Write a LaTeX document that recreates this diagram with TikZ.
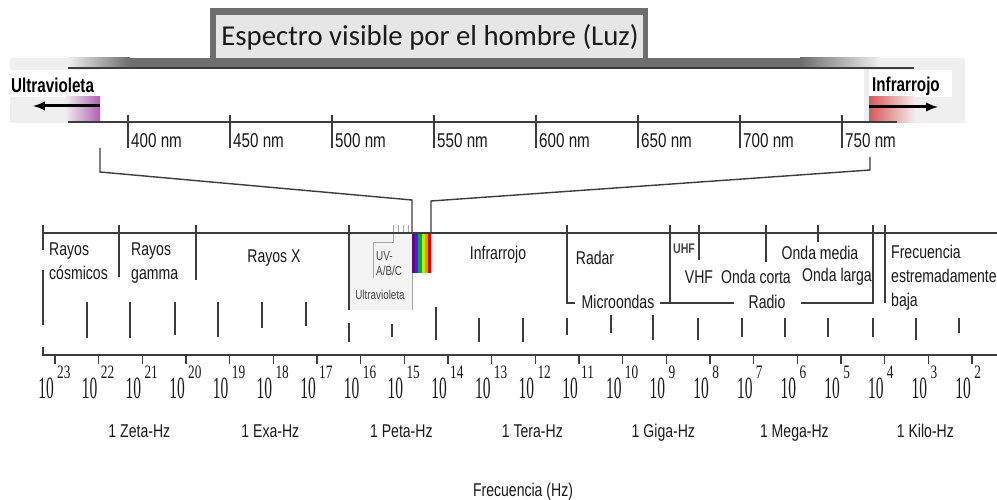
\documentclass[tikz,border=0pt]{standalone}
\usepackage{fontspec}
\usetikzlibrary{arrows, positioning, calc}
\newfontfamily\narrowfont[FakeStretch=0.76]{Liberation Sans}
\newfontfamily\tallfont[FakeStretch=0.5]{Liberation Serif}
\newfontfamily\supfont[FakeStretch=0.7]{Liberation Serif}
\newfontfamily\titlefont{Carlito}
\definecolor{axisgray}{HTML}{3C3C3C}
\definecolor{bargray}{HTML}{6E6E6E}
\definecolor{boxgray}{HTML}{E6E6E6}
\definecolor{panelgray}{HTML}{EFEFEF}
\definecolor{uvgray}{HTML}{F3F3F3}
\definecolor{uvpurple}{HTML}{B060B0}
\definecolor{irred}{HTML}{D85858}
\definecolor{txtgray}{HTML}{1A1A1A}
\tikzset{
  axisline/.style={draw=axisgray, line width=2pt},
  tickline/.style={draw=axisgray, line width=1.4pt},
  thinline/.style={draw=gray!70, line width=0.9pt},
  lbl/.style={inner sep=0pt, text=txtgray, font=\narrowfont\fontsize{18.5}{24}\selectfont},
  smalllbl/.style={inner sep=0pt, text=txtgray!80, font=\narrowfont\fontsize{13}{15}\selectfont},
  nmlbl/.style={inner sep=0pt, anchor=base west, text=txtgray, font=\narrowfont\fontsize{20}{20}\selectfont},
  sidelbl/.style={inner sep=0pt, anchor=base west, text=black, font=\narrowfont\bfseries\fontsize{20}{20}\selectfont},
  sidearrow/.style={-latex, line width=3pt, black},
}

\begin{document}
\begin{tikzpicture}[x=1pt, y=-1pt]
        \useasboundingbox (0,0) rectangle (997,500);
        \fill[white] (0,0) rectangle (997,500);
        % visible range band
        \fill[fill=panelgray] (10,58) rectangle (100,123);
        \fill[fill=white] (10,70) rectangle (100,97);
        \fill[fill=panelgray] (864,58) rectangle (965,123);
        \fill[fill=white] (869,70) rectangle (952,97);
        \fill[fill=bargray] (130,58) rectangle (800,68);
        \shade[left color=panelgray, right color=bargray] (68,58) rectangle (130,68);
        \shade[left color=bargray, right color=panelgray] (800,58) rectangle (880,68);
        \draw[axisgray, line width=1.5pt] (68,68) -- (914,68);
        \fill[fill=bargray] (210,8) rectangle (648,63);
        \fill[fill=boxgray] (216,15) rectangle (643,58);
        \node[inner sep=0pt, text=txtgray] (title) at (430,37) {\titlefont\fontsize{28.8}{29}\selectfont Espectro visible por el hombre (Luz)};
        \shade[left color=panelgray, right color=uvpurple] (65,97) rectangle (100,123);
        \shade[left color=irred, right color=panelgray] (869,97) rectangle (915,123);
        \node[sidelbl] (uvtext) at (11,93) {Ultravioleta};
        \node[sidelbl] (irtext) at (872,92) {Infrarrojo};
        \coordinate[] (UVA) at (100,106);
        \coordinate[] (UVB) at (33,106);
        \coordinate[] (IRA) at (869,107);
        \coordinate[] (IRB) at (938,107);
        \draw[sidearrow] (UVA) -- (UVB);
        \draw[sidearrow] (IRA) -- (IRB);
        % wavelength scale
        \draw[axisline] (68,122) -- (897,122);
        \foreach \nm [count=\k from 0] in {400,450,500,550,600,650,700,750} {
            \pgfmathsetmacro{\xx}{128+102.0*\k}
            \draw[tickline] (\xx,115) -- (\xx,148);
            \node[nmlbl] (nm\nm) at (\xx+3,148) {\nm\ nm};
        }
        % zoom lines
        \coordinate[] (L1) at (100,148);
        \coordinate[] (L2) at (100,172);
        \coordinate[] (L3) at (412,200);
        \coordinate[] (L4) at (412,233);
        \coordinate[] (R1) at (870,157);
        \coordinate[] (R2) at (870,170);
        \coordinate[] (R3) at (431,201);
        \coordinate[] (R4) at (431,233);
        \draw[axisgray, line width=1.4pt] (L1) -- (L2) -- (L3) -- (L4);
        \draw[axisgray, line width=1.4pt] (R1) -- (R2) -- (R3) -- (R4);
        % ultraviolet box and visible strip
        \fill[fill=uvgray] (349,233) rectangle (412,310);
        \draw[thinline] (412,233) -- (412,310);
        \foreach \xx in {398,403,408} {
            \draw[thinline] (\xx,225) -- (\xx,233);
        }
        \draw[thinline] (393,225) -- (393,242) -- (373,242) -- (373,278);
        \foreach \col [count=\k from 0] in {violet!80!blue, blue!85!white, green!70!black, yellow!80!green, orange!90!yellow, red!90!black} {
            \fill[fill=\col] ($(412,233) + (3.2*\k,0)$) rectangle ($(415.3,273) + (3.2*\k,0)$);
        }
        % main scale
        \draw[axisline] (43,233) -- (997,233);
        \draw[tickline] (43,225) -- (43,250);
        \draw[tickline] (43,270) -- (43,325);
        \draw[tickline] (119,225) -- (119,277);
        \draw[tickline] (196,225) -- (196,280);
        \draw[tickline] (349,225) -- (349,310);
        \draw[tickline] (575,303) -- (567,303) -- (567,225);
        \draw[tickline] (660,303) -- (734,303);
        \draw[tickline] (670,225) -- (670,303);
        \draw[tickline] (699,225) -- (699,260);
        \draw[tickline] (766,225) -- (766,262);
        \draw[tickline] (818,225) -- (818,242);
        \draw[tickline] (801,303) -- (873,303) -- (873,225);
        \draw[tickline] (885,225) -- (885,303);
        \node[lbl, anchor=north west, align=left] (cosmicos) at (49,243) {Rayos\\cósmicos};
        \node[lbl, anchor=north west, align=left] (gamma) at (131,243) {Rayos\\gamma};
        \node[lbl] (rayosx) at (274,258) {Rayos X};
        \node[smalllbl, anchor=north west, align=left] (uvabc) at (376,251) {UV-\\A/B/C};
        \node[smalllbl] (ultra) at (380,295) {Ultravioleta};
        \node[lbl] (infra) at (498,255) {Infrarrojo};
        \node[lbl] (radar) at (595,258) {Radar};
        \node[lbl] (micro) at (618,302) {Microondas};
        \node[smalllbl, font=\narrowfont\bfseries\fontsize{14}{15}\selectfont] (uhf) at (684,249) {UHF};
        \node[lbl] (vhf) at (699,277) {VHF};
        \node[lbl] (corta) at (756,277) {Onda corta};
        \node[lbl] (media) at (820,253) {Onda media};
        \node[lbl] (larga) at (837,277) {Onda larga};
        \node[lbl] (radio) at (767,302) {Radio};
        \node[lbl, anchor=north west, align=left] (baja) at (891,245) {Frecuencia\\estremadamente\\baja};
        % middle ticks
        \foreach \xx/\ya/\yb in {87/302/338, 130/302/338, 175/302/335, 218/302/337, 262/302/328, 306/302/326,
            349/323/342, 392/324/337, 436/307/340, 479/318/342, 523/318/342, 567/318/335, 611/315/333,
            653/315/340, 698/318/340, 742/318/337, 785/318/337, 828/318/337, 873/318/337, 916/318/340, 959/318/333} {
            \draw[tickline] (\xx,\ya) -- (\xx,\yb);
        }
        % frequency axis
        \draw[axisline] (43,347) -- (43,355) -- (997,355);
        \foreach \e [count=\k from 0] in {23,22,...,2} {
            \pgfmathsetmacro{\xx}{55+43.67*\k}
            \draw[tickline] (\xx,355) -- (\xx,364);
            \node[inner sep=0pt, anchor=base east, text=txtgray] (b\e) at (\xx-1,398) {\tallfont\fontsize{31}{31}\selectfont 10};
            \node[inner sep=0pt, anchor=north west, text=txtgray] (p\e) at (\xx+2,366) {\supfont\fontsize{19}{19}\selectfont \e};
        }
        \foreach \u/\k in {Zeta/2, Exa/5, Peta/8, Tera/11, Giga/14, Mega/17, Kilo/20} {
            \node[lbl, anchor=base] (u\u) at (55+43.67*\k-3,437) {1 \u-Hz};
        }
        \node[lbl, anchor=base] (freq) at (523,496) {Frecuencia (Hz)};
    \end{tikzpicture}
\end{document}
